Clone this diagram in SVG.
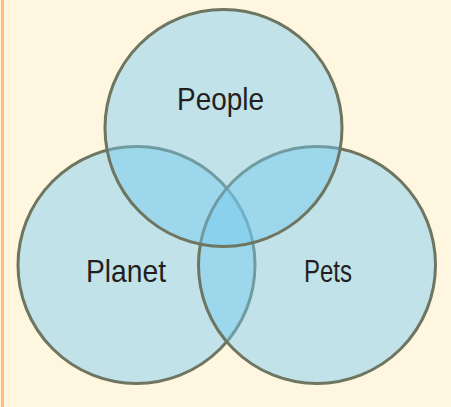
<svg xmlns="http://www.w3.org/2000/svg" width="451" height="407" viewBox="0 0 451 407">
<style>
.c{fill:#73CAF2;fill-opacity:0.45;stroke:#6E7560;stroke-width:3}
.t{font-family:"Liberation Sans",Arial,sans-serif;font-size:32px;fill:#231F20;text-anchor:middle}
</style>
<rect x="0" y="0" width="451" height="407" fill="#FFF6E0"/>
<rect x="1" y="0" width="3" height="407" fill="#FDBE7E"/>
<g id="planet">
<circle class="c" cx="136.5" cy="265" r="118.5"/>
</g>
<g id="pets">
<circle class="c" cx="317" cy="265" r="118.5"/>
</g>
<g id="people">
<circle class="c" cx="223.5" cy="128" r="118.5"/>
</g>
<g id="labels">
<text class="t" x="220.5" y="110" textLength="87" lengthAdjust="spacingAndGlyphs">People</text>
<text class="t" x="126" y="282" textLength="80" lengthAdjust="spacingAndGlyphs">Planet</text>
<text class="t" x="328" y="282" textLength="48" lengthAdjust="spacingAndGlyphs">Pets</text>
</g>
<g id="connectors"/>
</svg>
